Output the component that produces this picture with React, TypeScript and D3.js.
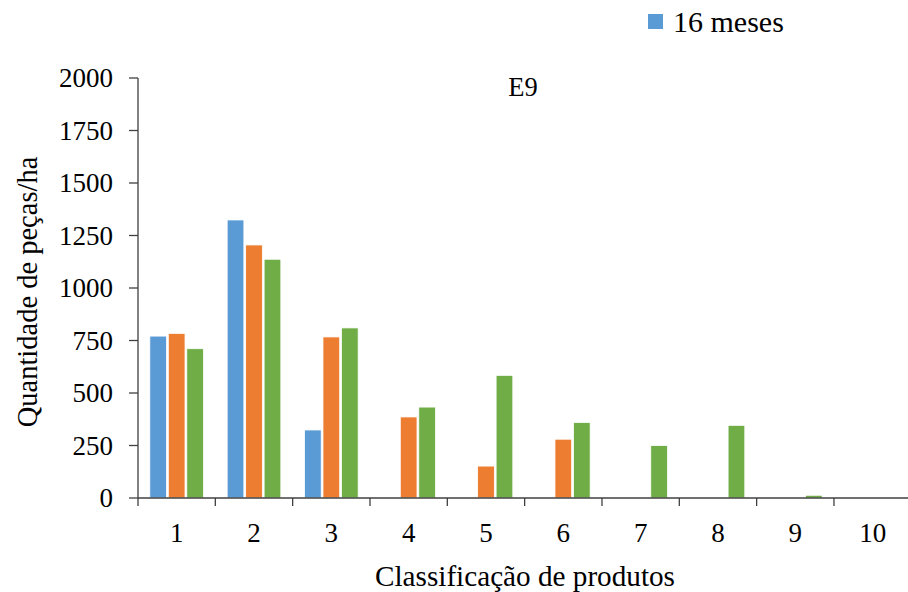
import React from "react";
import * as d3 from "d3";

const categories = ["1", "2", "3", "4", "5", "6", "7", "8", "9", "10"];
const seriesNames = ["16 meses", "s2", "s3"];
const blueValues = [771, 1324, 324, 0, 0, 0, 0, 0, 0, 0];
const orangeValues = [784, 1205, 767, 386, 152, 280, 0, 0, 0, 0];
const greenValues = [711, 1137, 810, 433, 584, 360, 250, 346, 13, 0];
const yTicks = [0, 250, 500, 750, 1000, 1250, 1500, 1750, 2000];
const colors = ["#5B9BD5", "#ED7D31", "#70AD47"];

const W = 908;
const H = 592;
const FONT = "Liberation Serif, Tinos, Times New Roman, DejaVu Serif, serif";

export default function App() {
  const x = d3.scaleBand<string>().domain(categories).range([138, 911.3]).padding(0);
  const xs = d3
    .scaleBand<string>()
    .domain(seriesNames)
    .range([0, x.bandwidth()])
    .paddingInner(0.095)
    .paddingOuter(0.64);
  const y = d3.scaleLinear().domain([0, 2000]).range([498, 78]);
  const series = [blueValues, orangeValues, greenValues];
  const axisColor = "#404040";

  return (
    <svg
      width={W}
      height={H}
      style={{ position: "absolute", left: 0, top: 0, background: "#fff", fontFamily: FONT }}
    >
      {/* bars */}
      {series.map((vals, si) =>
        vals.map((v, ci) =>
          v > 0 ? (
            <rect
              key={`${si}-${ci}`}
              x={(x(categories[ci]) as number) + (xs(seriesNames[si]) as number)}
              y={y(v)}
              width={xs.bandwidth()}
              height={y(0) - y(v)}
              fill={colors[si]}
              stroke="#ffffff"
              strokeWidth={0.8}
            />
          ) : null
        )
      )}

      {/* y axis */}
      <line x1={138} x2={138} y1={y(2000)} y2={y(0)} stroke={axisColor} strokeWidth={1.3} />
      {yTicks.map((t) => (
        <g key={t}>
          <line x1={129} x2={138} y1={y(t)} y2={y(t)} stroke={axisColor} strokeWidth={1.3} />
          <text x={113} y={y(t) + 9} textAnchor="end" fontFamily={FONT} fontSize={27} fill="#000">
            {t}
          </text>
        </g>
      ))}

      {/* x axis */}
      <line x1={138} x2={W} y1={y(0)} y2={y(0)} stroke={axisColor} strokeWidth={1.3} />
      {categories.map((c) => (
        <g key={c}>
          <line
            x1={(x(c) as number) + x.bandwidth()}
            x2={(x(c) as number) + x.bandwidth()}
            y1={y(0)}
            y2={y(0) + 8}
            stroke={axisColor}
            strokeWidth={1.3}
          />
          <text
            x={(x(c) as number) + x.bandwidth() / 2}
            y={542}
            textAnchor="middle"
            fontFamily={FONT}
            fontSize={27}
            fill="#000"
          >
            {c}
          </text>
        </g>
      ))}
      <line x1={138} x2={138} y1={y(0)} y2={y(0) + 8} stroke={axisColor} strokeWidth={1.3} />

      {/* axis titles */}
      <text x={525} y={586} textAnchor="middle" fontFamily={FONT} fontSize={29.2} fill="#000">
        Classificação de produtos
      </text>
      <text
        transform="translate(37,292) rotate(-90)"
        textAnchor="middle"
        fontFamily={FONT}
        fontSize={28.5}
        fill="#000"
      >
        Quantidade de peças/ha
      </text>

      {/* panel title */}
      <text x={523} y={96} textAnchor="middle" fontFamily={FONT} fontSize={26.5} fill="#000">
        E9
      </text>

      {/* legend */}
      <rect x={648} y={14} width={15} height={15} fill={colors[0]} />
      <text x={673} y={32} fontFamily={FONT} fontSize={30} fill="#000">
        {seriesNames[0]}
      </text>
    </svg>
  );
}
